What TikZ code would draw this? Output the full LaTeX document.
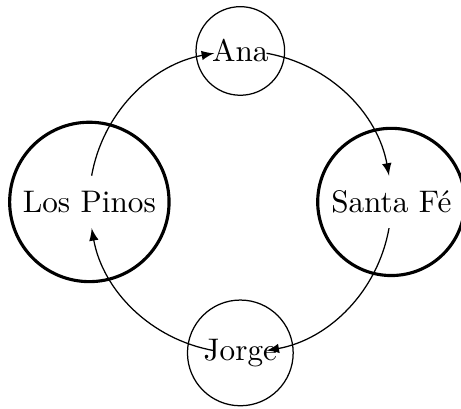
\documentclass[tikz,border=0pt]{standalone}
\usetikzlibrary{arrows}
\tikzstyle{town} = [circle, draw, line width=1pt]
\tikzstyle{person} = [circle, draw]
\tikzstyle{cable} = [->, >=latex, bend left=35, looseness=0.94]

\begin{document}
\begin{tikzpicture}
\useasboundingbox (-77pt,-66.1pt) rectangle (70.7pt,64.7pt);
\node (ana) [person] at (90:1.7cm) {Ana};
\node (santa) [town] at (0:1.7cm) {Santa Fé};
\node (jorge) [person] at (-90:1.7cm) {Jorge};
\node (pinos) [town] at (180:1.7cm) {Los Pinos};
\coordinate (pinosout) at (170:1.7cm);
\coordinate (anain) at (100:1.7cm);
\coordinate (anaout) at (80:1.7cm);
\coordinate (santain) at (10:1.7cm);
\coordinate (santaout) at (-10:1.7cm);
\coordinate (jorgein) at (-80:1.7cm);
\coordinate (jorgeout) at (-100:1.7cm);
\coordinate (pinosin) at (-170:1.7cm);
\draw [cable] (pinosout) to (anain);
\draw [cable] (anaout) to (santain);
\draw [cable] (santaout) to (jorgein);
\draw [cable] (jorgeout) to (pinosin);
\end{tikzpicture}
\end{document}
